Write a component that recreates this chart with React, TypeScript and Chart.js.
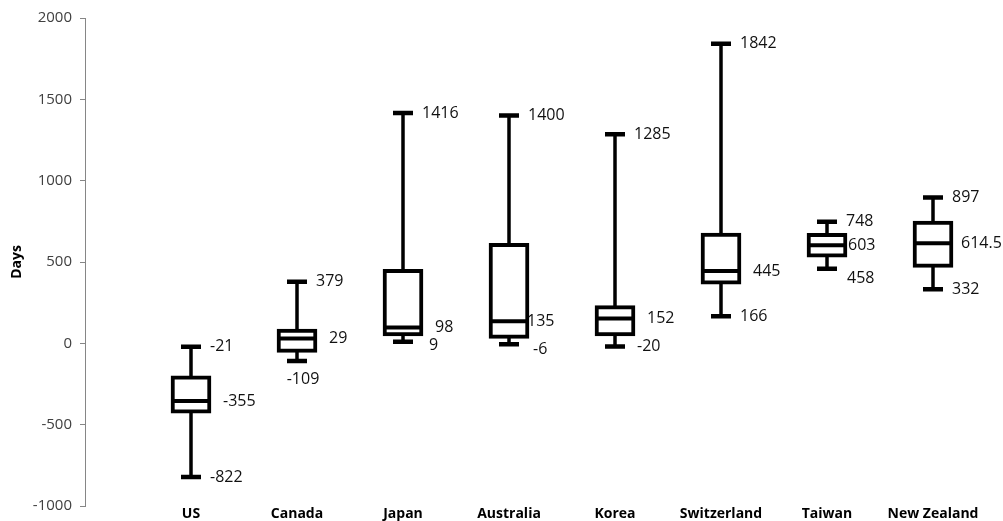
import React, { useEffect, useRef } from "react";
import { Chart, registerables } from "chart.js";

Chart.register(...registerables);

const categories = ["US", "Canada", "Japan", "Australia", "Korea", "Switzerland", "Taiwan", "New Zealand"];
const minValues = [-822, -109, 9, -6, -20, 166, 458, 332];
const q1Values = [-430, -56, 45, 30, 45, 363, 530, 467];
const medianValues = [-355, 29, 98, 135, 152, 445, 603, 614.5];
const q3Values = [-200, 88, 455, 615, 232, 678, 676, 752];
const maxValues = [-21, 379, 1416, 1400, 1285, 1842, 748, 897];
const yMin = -1000;
const yMax = 2000;
const yStep = 500;

// label placement (layout only)
const baseDx: Record<string, number> = { max: 19, median: 32, min: 19 };
const labelOverrides: Record<string, { dx?: number; dy?: number; align?: CanvasTextAlign }> = {
  "1-min": { dx: 6, dy: 18, align: "center" },
  "2-min": { dx: 26, dy: 4 },
  "3-median": { dx: 18 },
  "3-min": { dx: 24, dy: 5 },
  "4-min": { dx: 22 },
  "6-median": { dx: 21 },
  "6-min": { dx: 20, dy: 10 },
  "7-median": { dx: 28 },
};

const fmt = (v: number) => String(v);

const boxPlugin = {
  id: "boxWhiskers",
  beforeDatasetsDraw(chart: any) {
    const { ctx, scales } = chart;
    const xs = scales.x;
    const ys = scales.y;
    ctx.save();
    ctx.strokeStyle = "#000";
    categories.forEach((_, i) => {
      const x = xs.getPixelForValue(i + 1);
      const yMaxP = ys.getPixelForValue(maxValues[i]);
      const yMinP = ys.getPixelForValue(minValues[i]);
      ctx.lineWidth = 3.5;
      ctx.beginPath();
      ctx.moveTo(x, yMaxP);
      ctx.lineTo(x, yMinP);
      ctx.stroke();
      ctx.lineWidth = 4.5;
      ctx.beginPath();
      ctx.moveTo(x - 10, yMaxP);
      ctx.lineTo(x + 10, yMaxP);
      ctx.moveTo(x - 10, yMinP);
      ctx.lineTo(x + 10, yMinP);
      ctx.stroke();
    });
    ctx.restore();
  },
  afterDatasetsDraw(chart: any) {
    const { ctx, scales } = chart;
    const xs = scales.x;
    const ys = scales.y;
    ctx.save();
    categories.forEach((_, i) => {
      const x = xs.getPixelForValue(i + 1);
      const yMed = ys.getPixelForValue(medianValues[i]);
      ctx.strokeStyle = "#000";
      ctx.lineWidth = 4;
      ctx.beginPath();
      ctx.moveTo(x - 18, yMed);
      ctx.lineTo(x + 18, yMed);
      ctx.stroke();

      const labels: [string, number][] = [
        ["max", maxValues[i]],
        ["median", medianValues[i]],
        ["min", minValues[i]],
      ];
      ctx.fillStyle = "#111";
      ctx.font = "16px 'Open Sans'";
      ctx.textBaseline = "middle";
      labels.forEach(([kind, v]) => {
        const o = labelOverrides[`${i}-${kind}`] || {};
        const dx = o.dx ?? baseDx[kind];
        const dy = o.dy ?? 0;
        ctx.textAlign = o.align ?? "left";
        ctx.fillText(fmt(v), x + dx, ys.getPixelForValue(v) + dy);
      });
    });
    ctx.restore();
  },
};

export default function App() {
  const ref = useRef<HTMLCanvasElement | null>(null);
  useEffect(() => {
    if (!ref.current) return;
    const chart = new Chart(ref.current, {
      type: "bar",
      data: {
        datasets: [
          {
            data: categories.map((_, i) => ({ x: i + 1, y: [q1Values[i], q3Values[i]] })) as any,
            backgroundColor: "#fff",
            borderColor: "#000",
            borderWidth: 4,
            borderSkipped: false,
            barThickness: 40,
          },
        ],
      },
      options: {
        animation: false,
        responsive: true,
        maintainAspectRatio: false,
        layout: { padding: { top: 18, right: 17, left: 0, bottom: 0 } },
        plugins: { legend: { display: false }, tooltip: { enabled: false } },
        scales: {
          x: {
            type: "linear",
            offset: false,
            min: 0,
            max: 8.5,
            afterBuildTicks: (scale: any) => {
              scale.ticks = categories.map((_, i) => ({ value: i + 1 }));
            },
            afterFit: (scale: any) => {
              scale.height = 15;
            },
            grid: { display: false, drawTicks: false, tickLength: 0 },
            border: { display: false },
            ticks: {
              autoSkip: false,
              maxRotation: 0,
              padding: 0,
              color: "#000",
              font: { family: "'Open Sans'", size: 14, weight: "bold" },
              callback: (v: any) => categories[Number(v) - 1] ?? "",
            },
          },
          y: {
            min: yMin,
            max: yMax,
            afterFit: (scale: any) => {
              scale.width = 85;
              scale.paddingBottom = 0;
              scale.paddingTop = 0;
            },
            ticks: {
              stepSize: yStep,
              padding: 8,
              color: "#404040",
              font: { family: "'Open Sans'", size: 15 },
              callback: (v: any) => String(v),
            },
            grid: { drawOnChartArea: false, drawTicks: true, tickLength: 5, color: "#868686" },
            border: { display: true, color: "#868686", width: 1 },
            title: {
              display: true,
              text: "Days",
              color: "#000",
              padding: { top: 9, bottom: 0 },
              font: { family: "'Open Sans'", size: 14, weight: "bold" },
            },
          },
        },
      },
      plugins: [boxPlugin],
    });
    return () => chart.destroy();
  }, []);
  return (
    <div style={{ position: "fixed", left: 0, top: 0, width: 1003, height: 521, background: "#fff" }}>
      <canvas ref={ref} />
    </div>
  );
}
